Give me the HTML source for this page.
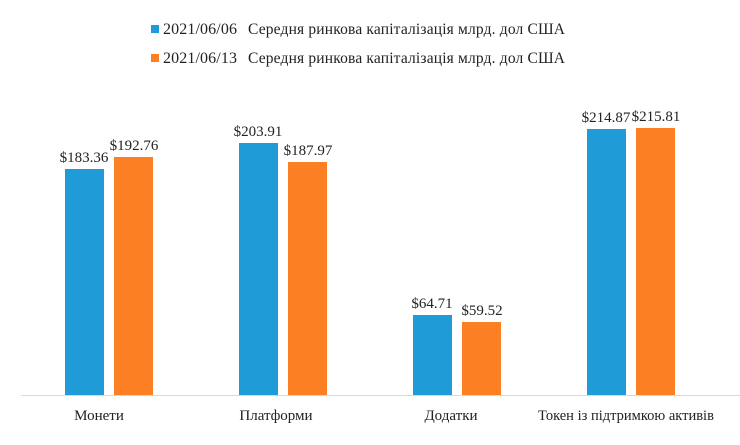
<!DOCTYPE html>
<html><head><meta charset="utf-8"><style>
html,body{margin:0;padding:0;background:#fff;}
svg text{font-family:"Liberation Serif","DejaVu Serif",serif;fill:#222;}
</style></head><body>
<svg width="740" height="440" viewBox="0 0 740 440" xmlns="http://www.w3.org/2000/svg">
<rect width="740" height="440" fill="#fff"/>
<rect x="151" y="25" width="8" height="8" fill="#1f9bd7"/>
<text x="163" y="34" font-size="16" textLength="74">2021/06/06</text>
<text x="248" y="34" font-size="15.5" textLength="317">Середня ринкова капіталізація млрд. дол США</text>
<rect x="151" y="54" width="8" height="8" fill="#fd7f23"/>
<text x="163" y="63" font-size="16" textLength="74">2021/06/13</text>
<text x="248" y="63" font-size="15.5" textLength="317">Середня ринкова капіталізація млрд. дол США</text>
<line x1="21" y1="395.5" x2="740" y2="395.5" stroke="#d9d9d9" stroke-width="1"/>
<g>
<rect x="65" y="169" width="39" height="226" fill="#1f9bd7"/>
<rect x="114" y="157" width="39" height="238" fill="#fd7f23"/>
<rect x="239" y="143" width="39" height="252" fill="#1f9bd7"/>
<rect x="288" y="162" width="39" height="233" fill="#fd7f23"/>
<rect x="413" y="315" width="39" height="80" fill="#1f9bd7"/>
<rect x="462" y="322" width="39" height="73" fill="#fd7f23"/>
<rect x="587" y="129" width="39" height="266" fill="#1f9bd7"/>
<rect x="636" y="128" width="39" height="267" fill="#fd7f23"/>
</g>
<g font-size="15" text-anchor="middle">
<text x="84" y="162">$183.36</text>
<text x="134" y="150">$192.76</text>
<text x="258" y="136">$203.91</text>
<text x="308" y="155">$187.97</text>
<text x="432" y="308">$64.71</text>
<text x="482" y="315">$59.52</text>
<text x="606" y="122">$214.87</text>
<text x="656" y="121">$215.81</text>
</g>
<g font-size="15" text-anchor="middle">
<text x="99" y="420">Монети</text>
<text x="276" y="420">Платформи</text>
<text x="451" y="420">Додатки</text>
<text x="626" y="420" font-size="14.5">Токен із підтримкою активів</text>
</g>
</svg>
</body></html>
